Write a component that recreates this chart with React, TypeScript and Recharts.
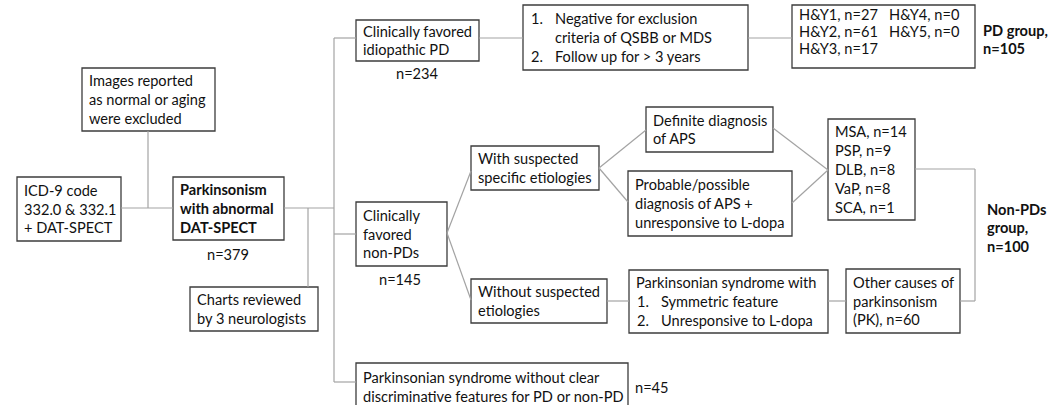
import { ComposedChart, XAxis, YAxis, ReferenceArea, ReferenceLine, Scatter } from "recharts";

const W = 1060;
const H = 405;
const FONT = "Lato, Calibri, 'Noto Sans', sans-serif";
const FS = 14.6;
const TEXT = "#111";
const BORDER = "#3c3c3c";
const LINK = "#a3a3a3";

type Box = {
  id: string;
  x1: number;
  y1: number;
  x2: number;
  y2: number;
  lines: string[];
  bold?: boolean;
  step?: number;
  dy?: number;
};

// flowchart boxes, in picture pixels; "\t" splits a list number from its text
const boxes: Box[] = [
  { id: "icd", x1: 17, y1: 177, x2: 121, y2: 241, lines: ["ICD-9 code", "332.0 & 332.1", "+ DAT-SPECT"] },
  { id: "excl", x1: 82, y1: 68, x2: 215, y2: 131, lines: ["Images reported", "as normal or aging", "were excluded"] },
  { id: "park", x1: 173, y1: 177, x2: 284, y2: 240, lines: ["Parkinsonism", "with abnormal", "DAT-SPECT"], bold: true },
  { id: "charts", x1: 190, y1: 287, x2: 318, y2: 331, lines: ["Charts reviewed", "by 3 neurologists"] },
  { id: "ipd", x1: 356, y1: 20, x2: 479, y2: 61, lines: ["Clinically favored", "idiopathic PD"] },
  { id: "crit", x1: 523, y1: 5, x2: 748, y2: 70, lines: ["1.\tNegative for exclusion", "\tcriteria of QSBB or MDS", "2.\tFollow up for > 3 years"] },
  { id: "hy", x1: 792, y1: 5, x2: 975, y2: 68, lines: ["H&Y1, n=27|H&Y4, n=0", "H&Y2, n=61|H&Y5, n=0", "H&Y3, n=17"], step: 17, dy: -5 },
  { id: "npd", x1: 356, y1: 202, x2: 447, y2: 266, lines: ["Clinically", "favored", "non-PDs"] },
  { id: "with", x1: 471, y1: 146, x2: 599, y2: 190, lines: ["With suspected", "specific etiologies"] },
  { id: "without", x1: 471, y1: 279, x2: 607, y2: 323, lines: ["Without suspected", "etiologies"] },
  { id: "def", x1: 646, y1: 107, x2: 773, y2: 152, lines: ["Definite diagnosis", "of APS"] },
  { id: "prob", x1: 628, y1: 171, x2: 792, y2: 236, lines: ["Probable/possible", "diagnosis of APS +", "unresponsive to L-dopa"] },
  { id: "sym", x1: 629, y1: 270, x2: 828, y2: 333, lines: ["Parkinsonian syndrome with", "1.\tSymmetric feature", "2.\tUnresponsive to L-dopa"] },
  { id: "aps", x1: 828, y1: 119, x2: 915, y2: 220, lines: ["MSA, n=14", "PSP, n=9", "DLB, n=8", "VaP, n=8", "SCA, n=1"] },
  { id: "pk", x1: 846, y1: 269, x2: 960, y2: 333, lines: ["Other causes of", "parkinsonism", "(PK), n=60"] },
  { id: "unclear", x1: 356, y1: 363, x2: 628, y2: 411, lines: ["Parkinsonian syndrome without clear", "discriminative features for PD or non-PD"] },
];

// connector segments [x1, y1, x2, y2]
const links: number[][] = [
  [121, 208, 173, 208],
  [148, 131, 148, 208],
  [284, 208, 334, 208],
  [308, 208, 308, 287],
  [334, 38, 334, 382],
  [334, 38, 356, 38],
  [479, 38, 523, 38],
  [748, 38, 792, 38],
  [334, 234, 356, 234],
  [447, 233, 471, 171],
  [447, 233, 471, 300],
  [599, 168, 646, 130],
  [599, 168, 628, 202],
  [607, 301, 629, 301],
  [773, 128, 828, 170],
  [792, 203, 828, 170],
  [828, 301, 846, 301],
  [915, 169, 975, 169],
  [975, 169, 975, 301],
  [975, 301, 960, 301],
  [334, 382, 356, 382],
];

// free text outside the boxes
const notes = [
  { x: 228, y: 254, lines: ["n=379"], anchor: "middle", bold: false },
  { x: 417, y: 73, lines: ["n=234"], anchor: "middle", bold: false },
  { x: 400, y: 279, lines: ["n=145"], anchor: "middle", bold: false },
  { x: 635, y: 387, lines: ["n=45"], anchor: "start", bold: false },
  { x: 983, y: 30, lines: ["PD group,", "n=105"], anchor: "start", bold: true },
  { x: 987, y: 209, lines: ["Non-PDs", "group,", "n=100"], anchor: "start", bold: true },
];

function boxLabel(box: Box) {
  return (props: any) => {
    const vb = props.viewBox || {};
    const step = box.step ?? 18.8;
    const cy = vb.y + vb.height / 2 + (box.dy ?? 0);
    const first = cy - ((box.lines.length - 1) * step) / 2;
    const left = vb.x + 7;
    return (
      <g>
        {box.lines.map((ln, i) => {
          const y = first + i * step;
          const common = {
            y,
            dominantBaseline: "central" as const,
            fontFamily: FONT,
            fontSize: FS,
            fontWeight: box.bold ? 700 : 400,
            fill: TEXT,
          };
          if (ln.includes("\t")) {
            const [num, rest] = ln.split("\t");
            return (
              <g key={i}>
                {num && <text x={left + 1} {...common}>{num}</text>}
                <text x={left + 25} {...common}>{rest}</text>
              </g>
            );
          }
          if (ln.includes("|")) {
            const [a, b] = ln.split("|");
            return (
              <g key={i}>
                <text x={left} {...common}>{a}</text>
                <text x={left + 90} {...common}>{b}</text>
              </g>
            );
          }
          return (
            <text key={i} x={left} {...common}>
              {ln}
            </text>
          );
        })}
      </g>
    );
  };
}

const NoteShape = (props: any) => {
  const { cx, cy, payload } = props;
  return (
    <g>
      {payload.lines.map((ln: string, i: number) => (
        <text
          key={i}
          x={cx}
          y={cy + i * 18.5}
          textAnchor={payload.anchor}
          dominantBaseline="central"
          fontFamily={FONT}
          fontSize={FS}
          fontWeight={payload.bold ? 700 : 400}
          fill={TEXT}
        >
          {ln}
        </text>
      ))}
    </g>
  );
};

export default function App() {
  return (
    <div style={{ position: "absolute", left: 0, top: 0, width: W, height: H, background: "#fff" }}>
      <ComposedChart width={W} height={H} margin={{ top: 0, right: 0, bottom: 0, left: 0 }}>
        <XAxis type="number" dataKey="x" domain={[0, W]} hide allowDataOverflow />
        <YAxis type="number" dataKey="y" domain={[0, H]} reversed hide allowDataOverflow />
        {links.map((s, i) => (
          <ReferenceLine
            key={"l" + i}
            segment={[
              { x: s[0], y: s[1] },
              { x: s[2], y: s[3] },
            ]}
            stroke={LINK}
            strokeWidth={1.2}
            ifOverflow="visible"
          />
        ))}
        {boxes.map((b) => (
          <ReferenceArea
            key={b.id}
            x1={b.x1}
            x2={b.x2}
            y1={b.y1}
            y2={b.y2}
            fill="#fff"
            fillOpacity={1}
            stroke={BORDER}
            strokeWidth={1.3}
            ifOverflow="visible"
            label={boxLabel(b)}
          />
        ))}
        <Scatter data={notes} dataKey="y" shape={NoteShape} isAnimationActive={false} />
      </ComposedChart>
    </div>
  );
}
